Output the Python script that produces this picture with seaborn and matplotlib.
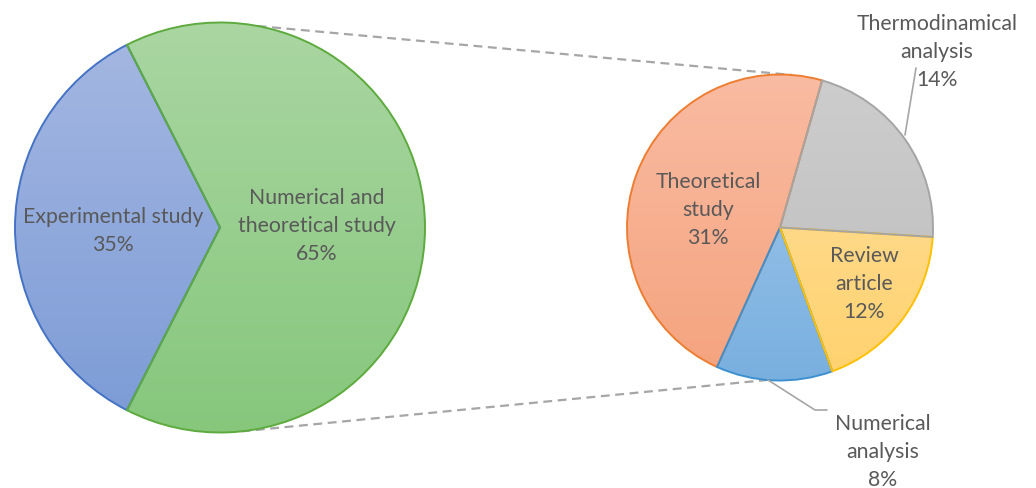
import numpy as np
import seaborn as sns
import matplotlib.pyplot as plt
from matplotlib.colors import LinearSegmentedColormap

# main pie
main_labels = ['Experimental study\n35%', 'Numerical and\ntheoretical study\n65%']
main_values = [35, 65]

# breakdown of the 65% slice
sub_labels = ['Theoretical\nstudy\n31%', 'Numerical\nanalysis\n8%',
              'Review\narticle\n12%', 'Thermodinamical\nanalysis\n14%']
sub_values = [31, 8, 12, 14]

main_top = ['#A6B8E2', '#AAD6A2']
main_bottom = ['#7B9BD6', '#86C77C']
main_edges = ['#4472C4', '#5DAA3E']
sub_top = ['#F9BBA2', '#A6CCED', '#FFE0A2', '#CDCDCD']
sub_bottom = ['#F5A37E', '#79AFDF', '#FFD26E', '#BDBDBD']
sub_edges = ['#ED7D31', '#3D90D0', '#FFC000', '#A5A5A5']

W, H = 1036, 488
TXT = '#595959'
LINE = '#A6A6A6'

sns.set_theme(style='white')
plt.rcParams['font.family'] = ['Lato', 'DejaVu Sans']

fig = plt.figure(figsize=(W / 100, H / 100), dpi=100)
ax = fig.add_axes([0, 0, 1, 1])


def gradient_pie(ax, values, center, radius, startangle, tops, bottoms, edges):
    """pie with a vertical gradient fill in every wedge (Excel look)"""
    wedges, _ = ax.pie(values, center=center, radius=radius, startangle=startangle,
                       counterclock=True, frame=True, wedgeprops=dict(linewidth=1.4))
    cx, cy = center
    grad = np.linspace(1, 0, 256).reshape(-1, 1)
    for w, c0, c1, ec in zip(wedges, tops, bottoms, edges):
        w.set_facecolor('none')
        w.set_edgecolor(ec)
        w.set_zorder(3)
        cmap = LinearSegmentedColormap.from_list('g', [c1, c0])
        im = ax.imshow(grad, cmap=cmap, aspect='auto', origin='upper', zorder=2,
                       extent=(cx - radius, cx + radius, cy - radius, cy + radius))
        im.set_clip_path(w)
    return wedges


def polar(center, radius, deg):
    a = np.deg2rad(deg)
    return center[0] + radius * np.cos(a), center[1] + radius * np.sin(a)


c_main, r_main = (220, H - 227.5), 205
c_sub, r_sub = (780, H - 227.5), 153

gradient_pie(ax, main_values, c_main, r_main, 117, main_top, main_bottom, main_edges)
gradient_pie(ax, sub_values, c_sub, r_sub, 74, sub_top, sub_bottom, sub_edges)

# dashed connectors between the two pies
for a_main, a_sub in [(79.4, 85.6), (-84, -94.8)]:
    p0 = polar(c_main, r_main, a_main)
    p1 = polar(c_sub, r_sub, a_sub)
    ax.plot([p0[0], p1[0]], [p0[1], p1[1]], color=LINE, lw=1.6,
            dashes=(4, 2.5), zorder=1)

# leader lines for outside labels
ax.plot([905, 916], [H - 135, H - 68], color=LINE, lw=1.2, zorder=4)
ax.plot([768, 815, 827], [H - 380, H - 410, H - 410], color=LINE, lw=1.2, zorder=4)

kw = dict(ha='center', va='center', fontsize=15.3, color=TXT, linespacing=1.5, zorder=5)
main_pos = [(113, 231), (317, 226)]
for lab, (x, y) in zip(main_labels, main_pos):
    ax.text(x, H - y, lab, **kw)

sub_pos = [(708, 210), (883, 452), (864, 284), (937, 52)]
for lab, (x, y) in zip(sub_labels, sub_pos):
    ax.text(x, H - y, lab, **kw)

ax.set_xlim(0, W)
ax.set_ylim(0, H)
ax.set_aspect('equal')
ax.axis('off')

fig.savefig('out.png', dpi=100, facecolor='white')
